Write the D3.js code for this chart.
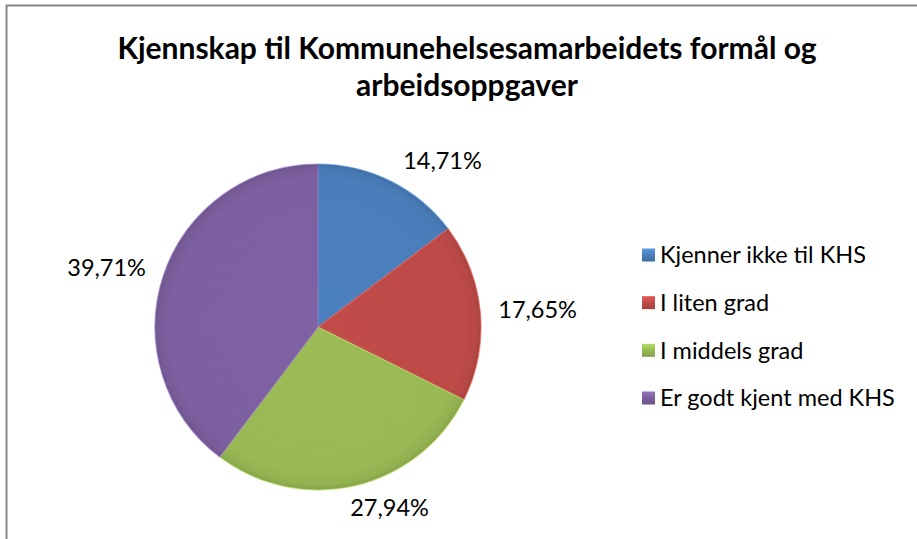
<!doctype html>
<html>
  <head>
    <meta charset="utf-8">
    <title>Kjennskap til Kommunehelsesamarbeidets formål og arbeidsoppgaver</title>
    <script src="https://cdnjs.cloudflare.com/ajax/libs/d3/7.8.5/d3.min.js"></script>
    <style>
      body { margin: 0; background: #fff; }
      svg { display: block; font-family: Lato, "Open Sans", sans-serif; }
    </style>
  </head>
  <body>
    <div id="root"></div>
    <script>
      // chart data
      let categories = ['Kjenner ikke til KHS', 'I liten grad', 'I middels grad', 'Er godt kjent med KHS'];
      let shares = [14.71, 17.65, 27.94, 39.71];
      let sliceColors = ['#4a7ebb', '#be4b48', '#98b954', '#7d60a0'];
      let titleLines = ['Kjennskap til Kommunehelsesamarbeidets formål og', 'arbeidsoppgaver'];

      let width = 917, height = 539,
        cx = 318, cy = 327, radius = 163;

      let data = categories.map((c, i) => ({name: c, value: shares[i], color: sliceColors[i]}));
      let fmt = v => d3.format('.2f')(v).replace('.', ',') + '%';

      let svg = d3.select('#root')
        .append('svg')
        .attr('width', width)
        .attr('height', height);

      let defs = svg.append('defs');

      // radial gradients give the slices a soft bevelled edge
      // (user space of the pie group, so centred on 0,0)
      data.forEach((d, i) => {
        let c = d3.color(d.color);
        let g = defs.append('radialGradient')
          .attr('id', 'grad' + i)
          .attr('gradientUnits', 'userSpaceOnUse')
          .attr('cx', 0).attr('cy', 0).attr('r', radius);
        g.append('stop').attr('offset', '0%').attr('stop-color', c.brighter(0.05));
        g.append('stop').attr('offset', '90%').attr('stop-color', c);
        g.append('stop').attr('offset', '97%').attr('stop-color', c.darker(0.12));
        g.append('stop').attr('offset', '100%').attr('stop-color', c.darker(0.35));

        let lg = defs.append('linearGradient')
          .attr('id', 'lgrad' + i)
          .attr('x1', 0).attr('y1', 0).attr('x2', 0).attr('y2', 1);
        lg.append('stop').attr('offset', '0%').attr('stop-color', c.brighter(0.5));
        lg.append('stop').attr('offset', '50%').attr('stop-color', c);
        lg.append('stop').attr('offset', '100%').attr('stop-color', c.darker(0.4));
      });

      // chart frame (only left and top edges are visible)
      svg.append('rect')
        .attr('x', 6.5).attr('y', 5.5)
        .attr('width', width + 10).attr('height', height + 10)
        .attr('fill', 'none')
        .attr('stroke', '#868686')
        .attr('stroke-width', 2);

      // title
      svg.append('text')
        .attr('x', 467)
        .attr('y', 59)
        .attr('text-anchor', 'middle')
        .attr('font-size', 30)
        .attr('font-weight', 'bold')
        .attr('fill', '#000')
        .selectAll('tspan')
        .data(titleLines)
        .enter()
        .append('tspan')
        .attr('x', 467)
        .attr('dy', (d, i) => i === 0 ? 0 : 37)
        .text(d => d);

      let pie = d3.pie().sort(null).value(d => d.value);
      let arcs = pie(data);
      let arc = d3.arc().innerRadius(0).outerRadius(radius);

      let g = svg.append('g').attr('transform', 'translate(' + [cx, cy] + ')');

      g.selectAll('path.slice')
        .data(arcs)
        .enter()
        .append('path')
        .attr('class', 'slice')
        .attr('d', arc)
        .attr('fill', (d, i) => 'url(#grad' + i + ')')
        .attr('stroke', (d, i) => d3.color(sliceColors[i]).brighter(0.6))
        .attr('stroke-opacity', 0.6)
        .attr('stroke-width', 1.2);

      // data labels outside the pie
      let labelGap = 10;
      g.selectAll('text.label')
        .data(arcs)
        .enter()
        .append('text')
        .attr('class', 'label')
        .attr('font-size', 23.5)
        .attr('fill', '#000')
        .each(function(d) {
          let a = (d.startAngle + d.endAngle) / 2;
          let s = Math.sin(a), c = -Math.cos(a);
          let px = s * (radius + labelGap), py = c * (radius + labelGap);
          let anchor = s > 0.3 ? 'start' : (s < -0.3 ? 'end' : 'middle');
          let dx = anchor === 'start' ? 8 : (anchor === 'end' ? -8 : 32);
          d3.select(this)
            .attr('x', px + dx)
            .attr('y', py + c * 13)
            .attr('dy', '0.35em')
            .attr('text-anchor', anchor)
            .text(fmt(d.data.value));
        });

      // legend
      let legendY = d3.scalePoint()
        .domain(categories)
        .range([255, 398]);

      let legend = svg.append('g');
      let items = legend.selectAll('g')
        .data(data)
        .enter()
        .append('g')
        .attr('transform', d => 'translate(' + [642, legendY(d.name)] + ')');

      items.append('rect')
        .attr('x', 0).attr('y', -6.5)
        .attr('width', 13).attr('height', 13)
        .attr('fill', (d, i) => 'url(#lgrad' + i + ')');

      items.append('text')
        .attr('x', 18)
        .attr('y', 0)
        .attr('dy', '0.35em')
        .attr('font-size', 23.5)
        .attr('fill', '#000')
        .text(d => d.name);
    </script>
  </body>
</html>
